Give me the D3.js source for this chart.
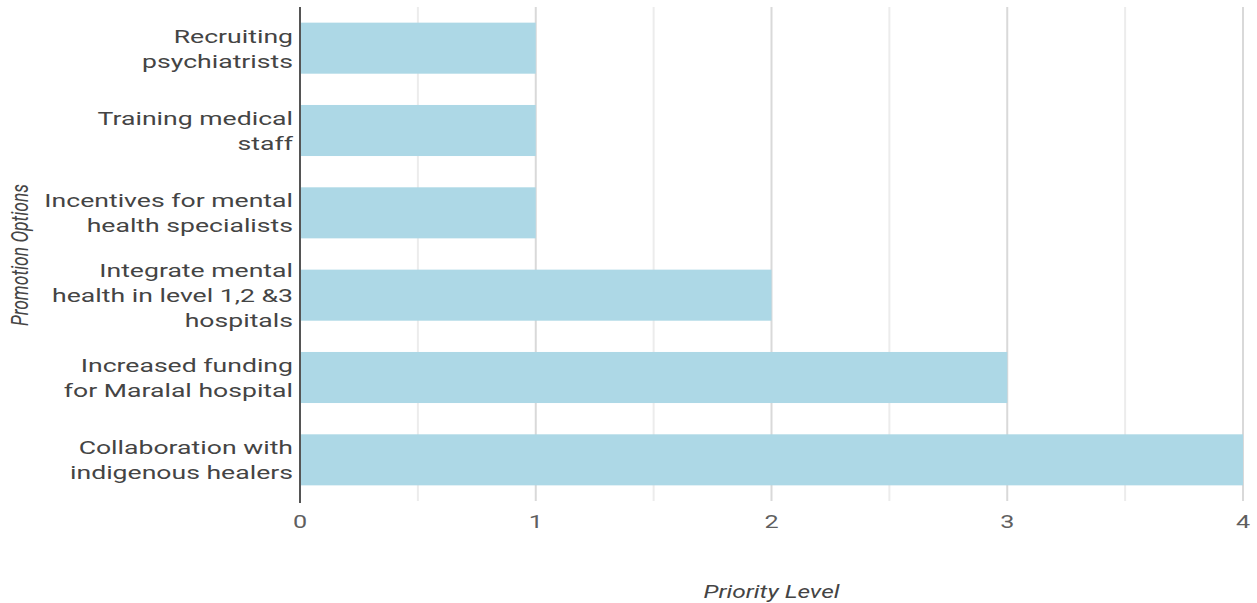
<!DOCTYPE html>
<html>
<head>
<meta charset="utf-8">
<script src="https://cdn.jsdelivr.net/npm/d3@7"></script>
<style>
  body { margin: 0; background: #fff; }
  svg { display: block; font-family: Roboto, "Noto Sans", sans-serif; }
</style>
</head>
<body>
<svg id="chart" width="1257" height="603"></svg>
<script>
const width = 1257, height = 603;

// data
const categories = [
    ["Recruiting", "psychiatrists"],
    ["Training medical", "staff"],
    ["Incentives for mental", "health specialists"],
    ["Integrate mental", "health in level 1,2 &3", "hospitals"],
    ["Increased funding", "for Maralal hospital"],
    ["Collaboration with", "indigenous healers"]
];
const values = [1, 1, 1, 2, 3, 4];
const xTicks = [0, 1, 2, 3, 4];
const gridTicks = [0, 0.5, 1, 1.5, 2, 2.5, 3, 3.5, 4];

const margin = {top: 7, right: 14, bottom: 102, left: 300};
// the original picture is stretched sideways, so text is too
const sx = 1.4;

const svg = d3.select("#chart");

const x = d3.scaleLinear()
    .domain([0, 4])
    .range([margin.left, width - margin.right]);

const y = d3.scaleBand()
    .domain(d3.range(categories.length))
    .range([margin.top, height - margin.bottom])
    .paddingInner(0.38)
    .paddingOuter(0.19);

// grid lines
svg.append("g")
    .selectAll("line")
    .data(gridTicks.filter(d => d > 0))
    .enter()
    .append("line")
    .attr("x1", d => x(d)).attr("x2", d => x(d))
    .attr("y1", margin.top).attr("y2", height - margin.bottom)
    .attr("stroke", d => Number.isInteger(d) ? "#d9d9d9" : "#ececec")
    .attr("stroke-width", 2);

// bars
svg.append("g")
    .selectAll("rect")
    .data(values)
    .enter()
    .append("rect")
    .attr("x", x(0))
    .attr("y", (d, i) => y(i))
    .attr("width", d => x(d) - x(0))
    .attr("height", y.bandwidth())
    .attr("fill", "#add8e6");

// y axis line
svg.append("line")
    .attr("x1", x(0)).attr("x2", x(0))
    .attr("y1", margin.top).attr("y2", height - margin.bottom + 2)
    .attr("stroke", "#555")
    .attr("stroke-width", 2);

// x tick labels
svg.append("g")
    .selectAll("text")
    .data(xTicks)
    .enter()
    .append("text")
    .attr("transform", d => `translate(${x(d)},528) scale(${sx},1)`)
    .attr("text-anchor", "middle")
    .attr("fill", "#5f5f5f")
    .style("font-size", "18px")
    .text(d => d);

// category labels
const lineH = 25;
const lbl = svg.append("g")
    .selectAll("text")
    .data(categories)
    .enter()
    .append("text")
    .attr("text-anchor", "end")
    .attr("fill", "#444")
    .style("font-size", "19px")
    .attr("transform", (d, i) => {
        const cy = y(i) + y.bandwidth() / 2;
        return `translate(293,${cy - (d.length - 1) * lineH / 2 + 7}) scale(${sx},1)`;
    });
lbl.selectAll("tspan")
    .data(d => d)
    .enter()
    .append("tspan")
    .attr("x", 0)
    .attr("y", (d, i) => i * lineH)
    .text(d => d);

// axis titles
svg.append("text")
    .attr("transform", `translate(${x(2)},598) scale(${sx},1)`)
    .attr("text-anchor", "middle")
    .attr("fill", "#444")
    .style("font-size", "17.5px")
    .style("font-style", "italic")
    .text("Priority Level");

svg.append("text")
    .attr("transform", `translate(28,255) scale(${sx},1) rotate(-90)`)
    .attr("text-anchor", "middle")
    .attr("fill", "#444")
    .style("font-size", "17.5px")
    .style("font-style", "italic")
    .text("Promotion Options");
</script>
</body>
</html>
